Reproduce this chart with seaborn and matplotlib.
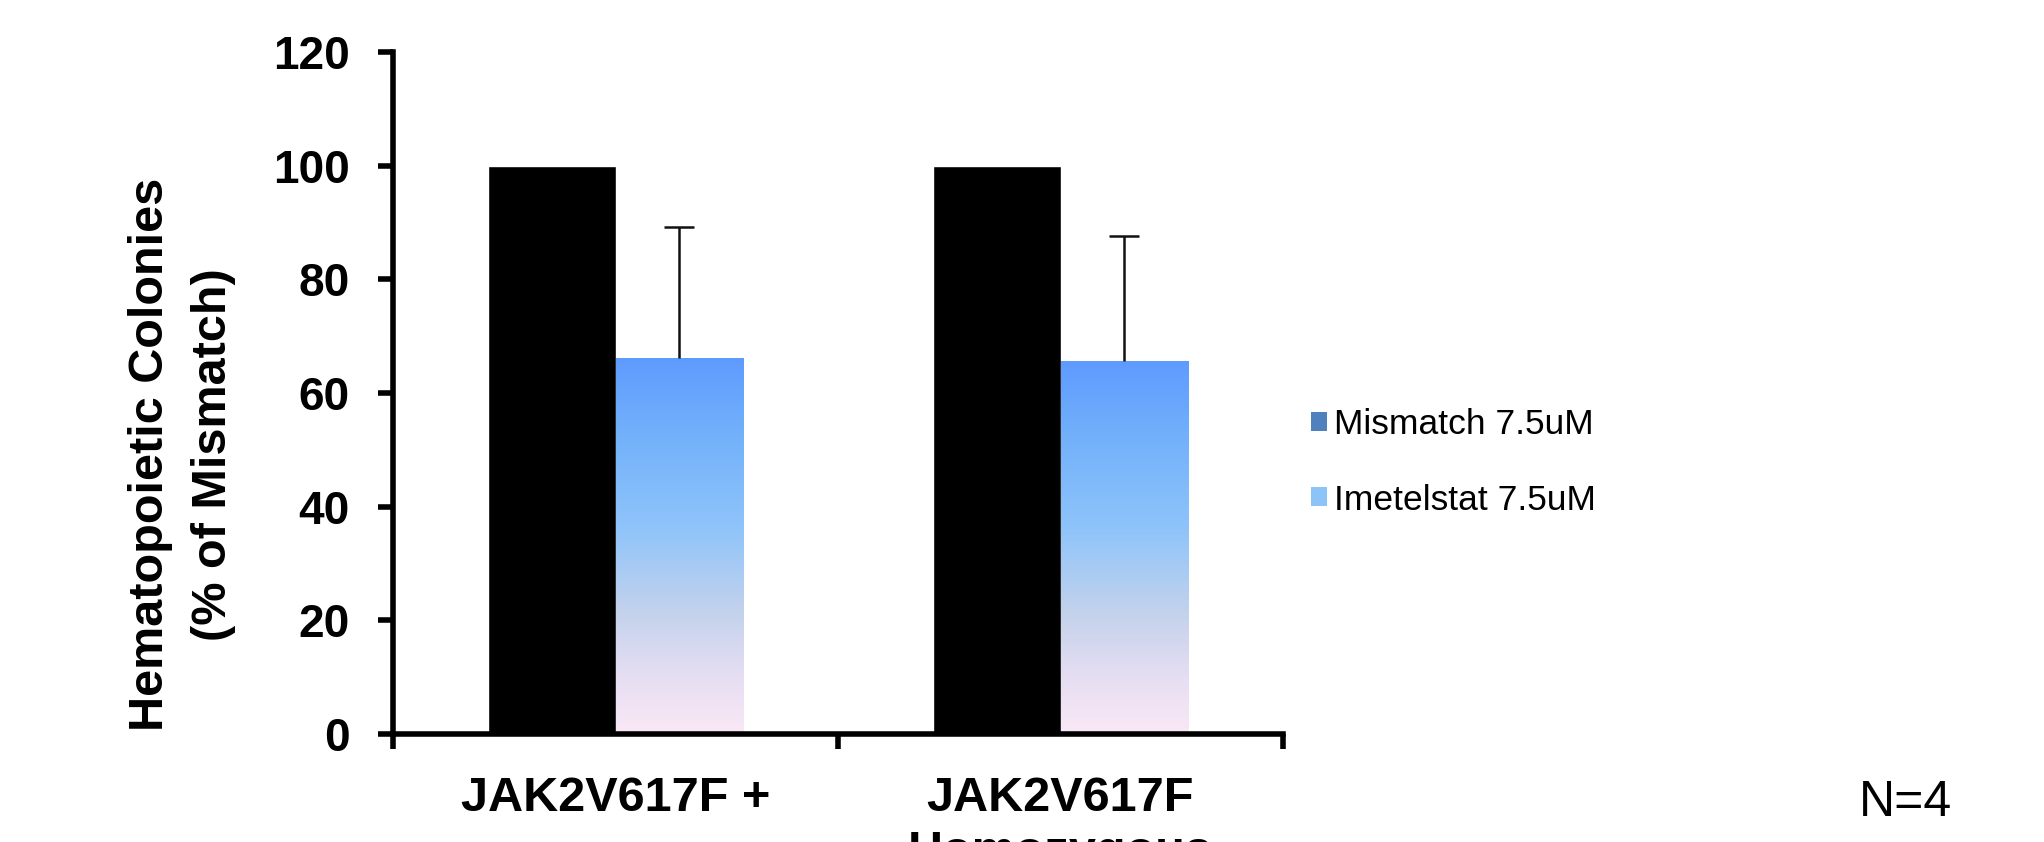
import numpy as np
import pandas as pd
import matplotlib
matplotlib.use("Agg")
import matplotlib.pyplot as plt
from matplotlib.colors import LinearSegmentedColormap
from matplotlib.patches import Patch
import seaborn as sns

# ---- data ----
groups = ["JAK2V617F +", "JAK2V617F\nHomozygous"]
treatments = ["Mismatch 7.5uM", "Imetelstat 7.5uM"]
mismatch_vals = [100.0, 100.0]
imetelstat_vals = [66.2, 65.6]
imetelstat_err = [23.0, 22.0]
y_ticks = [0, 20, 40, 60, 80, 100, 120]
y_label = "Hematopoietic Colonies\n(% of Mismatch)"
n_text = "N=4"

df = pd.DataFrame({
    "group": groups * 2,
    "treatment": [treatments[0]] * len(groups) + [treatments[1]] * len(groups),
    "value": mismatch_vals + imetelstat_vals,
})

sns.set_theme(style="white")
plt.rcParams["font.family"] = ["Liberation Sans", "DejaVu Sans"]
for key in ["text.color", "axes.labelcolor", "xtick.color", "ytick.color"]:
    plt.rcParams[key] = "black"

fig = plt.figure(figsize=(20.44, 8.42), dpi=100)
ax = fig.add_axes([393 / 2044, 1 - 734 / 842, 890 / 2044, 682 / 842])

sns.barplot(data=df, x="group", y="value", hue="treatment",
            hue_order=treatments, order=groups,
            palette={treatments[0]: "#000000", treatments[1]: "#6fa9f8"},
            width=0.575, gap=0, errorbar=None, legend=False,
            saturation=1, ax=ax, zorder=2)

# gradient fill for imetelstat bars
grad_cmap = LinearSegmentedColormap.from_list(
    "grad", [(0.0, "#fae8f6"), (0.15, "#e6def2"), (0.32, "#c4d2ec"),
             (0.55, "#8ec4fa"), (0.8, "#72b0fb"), (1.0, "#5e9bff")])
grad = np.linspace(0, 1, 256).reshape(-1, 1)
for bar in ax.containers[1]:
    x0 = bar.get_x()
    w = bar.get_width()
    h = bar.get_height()
    im = ax.imshow(grad, extent=[x0, x0 + w, 0, h], origin="lower",
                   cmap=grad_cmap, aspect="auto", zorder=2.5)
    im.set_clip_path(bar)
    bar.set_edgecolor("none")

# upper error bars only
xs = [b.get_x() + b.get_width() / 2 for b in ax.containers[1]]
ys = [b.get_height() for b in ax.containers[1]]
eb = ax.errorbar(xs, ys, yerr=[np.zeros(len(imetelstat_err)), imetelstat_err],
                 fmt="none", ecolor="#111111", elinewidth=1.8, capsize=11,
                 capthick=1.8, zorder=3)
caplines = eb[1]
if len(caplines) == 2:
    caplines[0].set_visible(False)

ax.set_xlim(-0.5, len(groups) - 0.5)
ax.set_ylim(0, 120)
ax.set_yticks(y_ticks)
ax.set_yticklabels([str(t) for t in y_ticks], fontsize=33, fontweight="bold")
ax.set_xticks(range(len(groups)))
ax.set_xticklabels(groups, fontsize=35, fontweight="bold", linespacing=1.27)
ax.set_xticks(np.arange(-0.5, len(groups), 1.0), minor=True)
ax.tick_params(axis="x", which="major", length=0, pad=30, colors="black")
ax.tick_params(axis="x", which="minor", length=11, width=4, direction="out",
               bottom=True, color="black")
ax.tick_params(axis="y", which="major", length=11, width=4, direction="out",
               left=True, pad=20, colors="black")
ax.set_xlabel("")
ax.set_ylabel(y_label, fontsize=35, fontweight="bold", linespacing=1.5)
ax.yaxis.label.set_va("center")
ax.yaxis.set_label_coords(-0.237, 0.41)

for side in ["top", "right"]:
    ax.spines[side].set_visible(False)
for side in ["left", "bottom"]:
    ax.spines[side].set_linewidth(4)
    ax.spines[side].set_color("black")
    ax.spines[side].set_zorder(4)

# legend
handles = [Patch(facecolor="#4f81bd", edgecolor="none"),
           Patch(facecolor="#8cc4f8", edgecolor="none")]
fig.legend(handles, treatments, loc="upper left",
           bbox_to_anchor=(1311 / 2044, 1 - 408 / 842),
           bbox_transform=fig.transFigure, frameon=False,
           fontsize=25.5, handlelength=0.45, handleheight=0.45,
           handletextpad=0.2, labelspacing=1.2, borderpad=0,
           borderaxespad=0)

fig.text(1905 / 2044, 1 - 803 / 842, n_text, fontsize=36,
         ha="center", va="center", color="black")

fig.savefig("out.png", dpi=100, facecolor="white")
